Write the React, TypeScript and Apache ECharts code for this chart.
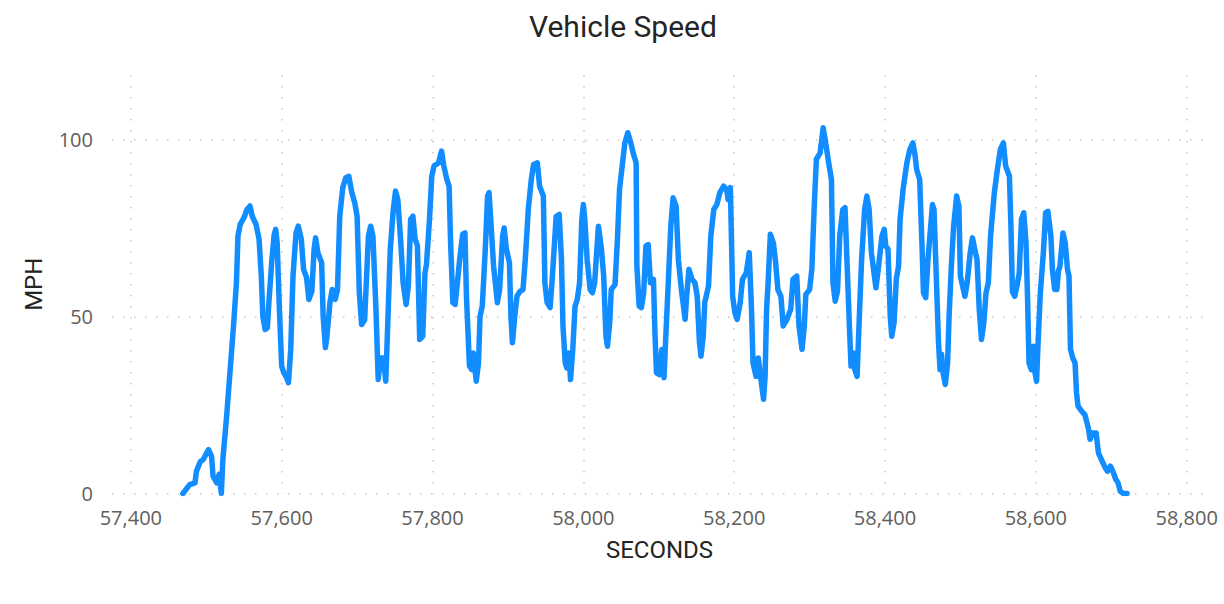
import React, { useEffect, useRef } from "react";
import * as echarts from "echarts";

const titleText = "Vehicle Speed";
const xAxisName = "SECONDS";
const yAxisName = "MPH";
const xTickValues = [57400, 57600, 57800, 58000, 58200, 58400, 58600, 58800];

const seconds = [
  57469, 57478, 57485, 57487, 57492, 57496, 57503, 57507, 57509, 57514, 57517, 57520, 57522, 57527, 57531, 57536,
  57540, 57542, 57545, 57550, 57554, 57558, 57561, 57566, 57570, 57573, 57575, 57578, 57581, 57583, 57587, 57590,
  57592, 57594, 57597, 57600, 57603, 57606, 57609, 57612, 57615, 57619, 57622, 57626, 57629, 57633, 57636, 57640,
  57643, 57645, 57648, 57653, 57655, 57658, 57660, 57664, 57667, 57671, 57674, 57677, 57681, 57685, 57689, 57693,
  57697, 57700, 57703, 57706, 57710, 57715, 57718, 57721, 57725, 57728, 57731, 57735, 57738, 57741, 57744, 57748,
  57751, 57754, 57758, 57761, 57765, 57768, 57771, 57774, 57777, 57780, 57783, 57787, 57790, 57792, 57796, 57799,
  57802, 57808, 57812, 57815, 57819, 57822, 57824, 57827, 57830, 57833, 57836, 57840, 57843, 57845, 57849, 57852,
  57854, 57858, 57861, 57863, 57866, 57870, 57873, 57875, 57878, 57881, 57886, 57889, 57893, 57895, 57898, 57902,
  57904, 57906, 57909, 57912, 57916, 57920, 57923, 57927, 57931, 57934, 57939, 57942, 57947, 57949, 57952, 57956,
  57959, 57964, 57968, 57971, 57973, 57976, 57978, 57981, 57983, 57986, 57989, 57992, 57995, 57998, 58000, 58002,
  58005, 58009, 58012, 58015, 58020, 58024, 58027, 58030, 58032, 58035, 58037, 58042, 58045, 58048, 58052, 58055,
  58059, 58063, 58066, 58070, 58071, 58074, 58077, 58080, 58083, 58086, 58089, 58093, 58095, 58097, 58101, 58104,
  58107, 58109, 58113, 58116, 58119, 58123, 58126, 58130, 58135, 58137, 58140, 58144, 58148, 58151, 58154, 58156,
  58159, 58161, 58166, 58169, 58173, 58177, 58181, 58186, 58190, 58192, 58195, 58198, 58201, 58204, 58208, 58211,
  58216, 58220, 58223, 58225, 58229, 58232, 58235, 58239, 58241, 58243, 58245, 58248, 58252, 58255, 58258, 58262,
  58265, 58270, 58275, 58278, 58283, 58286, 58290, 58293, 58295, 58300, 58303, 58306, 58309, 58314, 58318, 58322,
  58326, 58329, 58331, 58334, 58337, 58340, 58344, 58347, 58350, 58353, 58355, 58358, 58360, 58363, 58366, 58369,
  58373, 58376, 58379, 58382, 58388, 58391, 58396, 58399, 58401, 58404, 58407, 58409, 58412, 58415, 58418, 58420,
  58424, 58429, 58433, 58437, 58440, 58442, 58446, 58449, 58451, 58454, 58457, 58461, 58463, 58465, 58468, 58471,
  58473, 58475, 58477, 58480, 58483, 58485, 58488, 58491, 58495, 58498, 58500, 58504, 58506, 58509, 58513, 58516,
  58519, 58522, 58525, 58528, 58531, 58534, 58537, 58540, 58545, 58549, 58553, 58557, 58560, 58565, 58567, 58569,
  58572, 58575, 58578, 58581, 58584, 58587, 58589, 58591, 58594, 58597, 58599, 58601, 58603, 58606, 58610, 58613,
  58616, 58620, 58622, 58625, 58628, 58630, 58632, 58636, 58639, 58642, 58644, 58646, 58649, 58652, 58654, 58656,
  58661, 58665, 58670, 58672, 58675, 58680, 58683, 58687, 58692, 58695, 58699, 58703, 58706, 58709, 58712, 58716,
  58721,
];

const mph = [
  0, 2.5, 3, 6.3, 9, 9.6, 12.4, 10.5, 4.9, 3, 5.4, 0, 9.6, 21.8, 33, 47,
  59.5, 72.7, 76, 77.9, 80.2, 81.2, 78.3, 76, 71.8, 61.4, 50, 46.3, 46.8, 53.9, 66, 73,
  74.6, 70.8, 52, 36, 34, 33, 31.3, 40.7, 61.4, 73.6, 75.5, 71.8, 63.3, 61, 54.8, 57.1,
  69, 72.2, 68, 65.2, 50, 41.2, 44.4, 53.9, 57.6, 54.8, 57.6, 78.3, 86.4, 89.2, 89.6, 85,
  82, 78.3, 56.7, 47.7, 49, 72.7, 75.5, 72.7, 52, 32.2, 38.3, 38.3, 31.7, 50, 69, 80.2,
  85.4, 83, 70.8, 59.5, 53.4, 58.6, 77.4, 78.3, 71.8, 70, 43.5, 44.4, 62.3, 64.7, 77.4, 89.6,
  92.5, 93.4, 96.7, 92.5, 88.7, 86.8, 70.8, 53.9, 53.4, 59.5, 66.1, 73.2, 73.6, 55.7, 36, 35,
  39.7, 31.7, 36.9, 50, 52.9, 69, 84, 85, 74.6, 64.2, 53.9, 57.6, 72.7, 75, 69, 65.2,
  50, 42.6, 50, 55.7, 57.1, 57.6, 66.1, 80.2, 88.7, 92.9, 93.4, 86.8, 84, 59.5, 53.9, 52.5,
  61.4, 78.3, 78.8, 66.1, 47.3, 36.9, 35.5, 39.7, 32.2, 40.7, 52.9, 54.8, 59.5, 77.4, 81.6, 77.4,
  66.1, 57.6, 56.7, 59.5, 75.5, 69, 61.4, 44.4, 41.6, 48.2, 57.6, 59, 70.8, 85.9, 93.4, 99,
  101.9, 99, 96.2, 93.4, 64.2, 52.9, 52.5, 56.7, 69.9, 70.3, 59.5, 60.5, 45, 34.1, 33.6, 40.7,
  32.7, 42.6, 61.4, 75.5, 83.5, 81.2, 66.1, 57.6, 49.2, 55.7, 63.3, 60.5, 59.5, 55.7, 42.6, 38.8,
  44.4, 53.9, 58.6, 72.7, 80.2, 81.6, 85, 86.8, 85.9, 83, 86.4, 55.7, 51, 49.2, 53.9, 60.5,
  62.3, 68, 52, 36.9, 33.1, 38.3, 33.1, 26.6, 33.1, 52, 59.5, 73.2, 70.8, 65.2, 57.6, 55.7,
  47.3, 49.2, 52, 60.5, 61.4, 47.3, 40.7, 47.3, 56.2, 57.6, 63.3, 80.2, 94.4, 96.2, 103.3, 98.1,
  92.5, 88.7, 59.5, 54.3, 57.1, 72.7, 80.2, 80.7, 63.3, 46.3, 36, 39.7, 35, 33.1, 50, 66.1,
  80.2, 84, 80.2, 68, 58.1, 63.3, 72.7, 74.6, 69.9, 69, 50, 44.4, 48.2, 60.5, 64.2, 77.4,
  85.9, 93.4, 97.2, 99, 95.3, 91.5, 88.7, 70.8, 56.7, 55.3, 66.1, 76.5, 81.6, 80.2, 61.4, 42.6,
  35, 39.3, 34.1, 30.8, 36.9, 50, 64.2, 75.5, 84, 81.2, 61.4, 57.6, 55.7, 59.5, 68, 72.2,
  69, 66.1, 52, 43.5, 48.2, 56.7, 59.5, 72.7, 85, 91.5, 97.2, 99, 92.5, 89.6, 75.5, 57,
  55.7, 58.6, 62.3, 77.4, 79.3, 70.8, 55.7, 36.9, 35, 41.6, 34.1, 31.7, 42.6, 56.7, 68, 79.3,
  79.7, 72.7, 63.3, 57.6, 57.6, 62.8, 64.2, 73.6, 70.8, 63.3, 61.4, 40.7, 38.3, 36.9, 28.4, 24.7,
  23.2, 22.3, 18.1, 15.3, 17.1, 17.1, 11.5, 9.6, 7.3, 6.3, 7.7, 5.8, 4, 3, 0.6, 0,
  0,
];

const yTickValues = [0, 50, 100];

export default function App() {
  const ref = useRef<HTMLDivElement>(null);
  useEffect(() => {
    if (!ref.current) return;
    const chart = echarts.init(ref.current, undefined, { renderer: "svg" });
    const data = seconds.map((s, i) => [s, mph[i]]);
    const gridLine = { show: true, lineStyle: { color: "#c8c6c4", width: 1.5, type: [1.5, 9.5] as any } };
    chart.setOption({
      animation: false,
      backgroundColor: "#ffffff",
      title: {
        text: titleText,
        left: 524,
        top: 6,
        textStyle: { fontFamily: "Roboto", fontSize: 30, fontWeight: "normal", color: "#252423" },
      },
      grid: { left: 112, right: 17, top: 75, bottom: 110.5, containLabel: false },
      xAxis: {
        type: "value",
        min: 57375,
        max: 58827,
        name: xAxisName,
        nameLocation: "middle",
        nameGap: 44,
        nameTextStyle: { fontFamily: "Roboto", fontSize: 24, color: "#252423" },
        axisLine: { show: false },
        axisTick: { show: false, customValues: xTickValues },
        axisLabel: {
          customValues: xTickValues,
          margin: 14,
          fontFamily: "Open Sans",
          fontSize: 20,
          color: "#605e5c",
          formatter: (v: number) => v.toLocaleString("en-US"),
        },
        splitLine: gridLine,
      },
      yAxis: {
        type: "value",
        min: 0,
        max: 118.2,
        name: yAxisName,
        nameLocation: "middle",
        nameGap: 66,
        nameTextStyle: { fontFamily: "Roboto", fontSize: 24, color: "#252423" },
        axisLine: { show: false },
        axisTick: { show: false, customValues: yTickValues },
        axisLabel: {
          customValues: yTickValues,
          margin: 19,
          fontFamily: "Open Sans",
          fontSize: 20,
          color: "#605e5c",
        },
        splitLine: gridLine,
      },
      series: [
        {
          type: "line",
          data,
          showSymbol: false,
          lineStyle: { color: "#118dff", width: 5.5, join: "round", cap: "round" },
          itemStyle: { color: "#118dff" },
        },
      ],
    });
    return () => chart.dispose();
  }, []);
  return (
    <div
      ref={ref}
      style={{ position: "fixed", left: 0, top: 0, width: 1224, height: 604, background: "#fff" }}
    />
  );
}
